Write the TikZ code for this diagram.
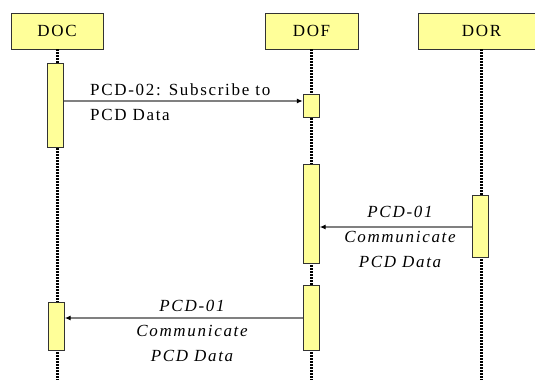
\documentclass[tikz,border=0pt]{standalone}
\usepackage{fontspec}
\setmainfont{Liberation Serif}[LetterSpace=10]
\usetikzlibrary{arrows.meta}
\definecolor{boxyellow}{RGB}{255,255,153}
\definecolor{msggray}{RGB}{128,128,128}

\begin{document}
\begin{tikzpicture}[x=1pt, y=-1pt,
    actor/.style={draw=black!80, fill=boxyellow, minimum height=36pt, inner sep=0pt,
      font=\fontsize{17}{25}\selectfont},
    act/.style={draw=black!80, fill=boxyellow, minimum width=16pt, inner sep=0pt},
    lifeline/.style={line width=3pt, dash pattern=on 2pt off 1pt},
    msg/.style={draw=msggray, line width=1.2pt, -{Latex[black,length=6pt,width=5pt]}},
    note/.style={inner sep=0pt, font=\fontsize{17}{25}\selectfont},
    emnote/.style={inner sep=0pt, align=center, font=\fontsize{17}{25}\selectfont\itshape}]
  \clip (0,0) rectangle (535,380);

  % objects
  \node[actor, minimum width=92pt] (doc) at (57,31) {DOC};
  \node[actor, minimum width=93pt] (dof) at (311.5,31) {DOF};
  \node[actor, minimum width=127pt] (dor) at (481.5,31) {DOR};

  \draw[lifeline] (doc.south) -- (doc.south |- 0,380);
  \draw[lifeline] (dof.south) -- (dof.south |- 0,380);
  \draw[lifeline] (dor.south) -- (dor.south |- 0,380);

  % activations
  \node[act, minimum height=84pt] (docA) at (55.5,105) {};
  \node[act, minimum height=48pt] (docB) at (56.5,326) {};
  \node[act, minimum height=23pt] (dofA) at (311,105.5) {};
  \node[act, minimum height=99pt] (dofB) at (311.5,213.5) {};
  \node[act, minimum height=65pt] (dofC) at (311.5,317.5) {};
  \node[act, minimum height=62pt] (dorA) at (480.5,226) {};

  % messages
  \draw[msg] (docA.east |- 0,101) -- (dofA.west |- 0,101);
  \node[note, anchor=base west, align=left] (subscribe) at (90,120) {PCD-02: Subscribe to\\PCD Data};

  \draw[msg] (dorA.west |- 0,227) -- (dofB.east |- 0,227);
  \node[emnote, anchor=base] (commA) at (400,267) {PCD-01\\Communicate\\PCD Data};

  \draw[msg] (dofC.west |- 0,318) -- (docB.east |- 0,318);
  \node[emnote, anchor=base] (commB) at (192,361) {PCD-01\\Communicate\\PCD Data};
\end{tikzpicture}
\end{document}
